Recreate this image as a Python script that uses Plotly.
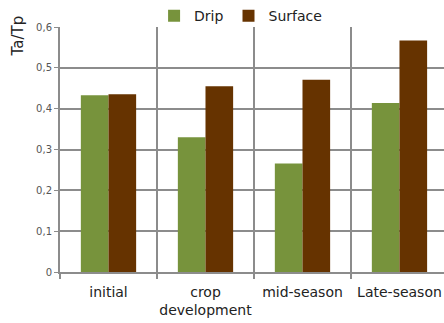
import plotly.graph_objects as go

categories = ["initial", "crop<br>development", "mid-season", "Late-season"]
drip = [0.433, 0.330, 0.266, 0.414]
surface = [0.435, 0.455, 0.471, 0.567]
y_ticks = [0, 0.1, 0.2, 0.3, 0.4, 0.5, 0.6]
y_tick_text = ["0", "0,1", "0,2", "0,3", "0,4", "0,5", "0,6"]

x_pos = list(range(len(categories)))
grid_col = "#8c8c8c"

fig = go.Figure()
fig.add_trace(go.Bar(x=x_pos, y=drip, name="Drip", marker_color="#77933C",
                     marker_line_width=0))
fig.add_trace(go.Bar(x=x_pos, y=surface, name="Surface", marker_color="#663300",
                     marker_line_width=0))

fig.update_layout(
    width=444, height=323,
    margin=dict(l=60, r=0, t=21, b=51),
    paper_bgcolor="white", plot_bgcolor="white",
    barmode="group", bargap=0.43, bargroupgap=0,
    font=dict(family="DejaVu Sans", color="#222222"),
    showlegend=True,
    legend=dict(orientation="h", x=0.245, xanchor="left", y=1.044, yanchor="middle",
                font=dict(size=14, color="#222222"), bgcolor="rgba(0,0,0,0)",
                itemwidth=30, tracegroupgap=0),
    xaxis=dict(
        range=[-0.5, 3.459],
        tickvals=x_pos, ticktext=categories,
        tickfont=dict(size=14, color="#222222"),
        ticklabelstandoff=6,
        showgrid=False, ticks="", zeroline=False,
        showline=True, linecolor=grid_col, linewidth=2,
        minor=dict(tickvals=[-0.5, 0.5, 1.5, 2.5, 3.5], showgrid=True,
                   gridcolor=grid_col, gridwidth=2,
                   ticks="outside", ticklen=5, tickcolor=grid_col, tickwidth=2),
    ),
    yaxis=dict(
        range=[0, 0.6], tickvals=y_ticks, ticktext=y_tick_text,
        tickfont=dict(size=10, color="#555555"),
        showgrid=True, gridcolor=grid_col, gridwidth=2,
        zeroline=False, showline=True, linecolor=grid_col, linewidth=2,
        ticks="outside", ticklen=4, tickcolor=grid_col,
    ),
    annotations=[dict(text="Ta/Tp", textangle=-90, xref="paper", yref="paper",
                      x=-0.109, y=0.962, xanchor="center", yanchor="middle",
                      showarrow=False, font=dict(size=15, color="#222222"))],
)

fig.write_html("out.html")
